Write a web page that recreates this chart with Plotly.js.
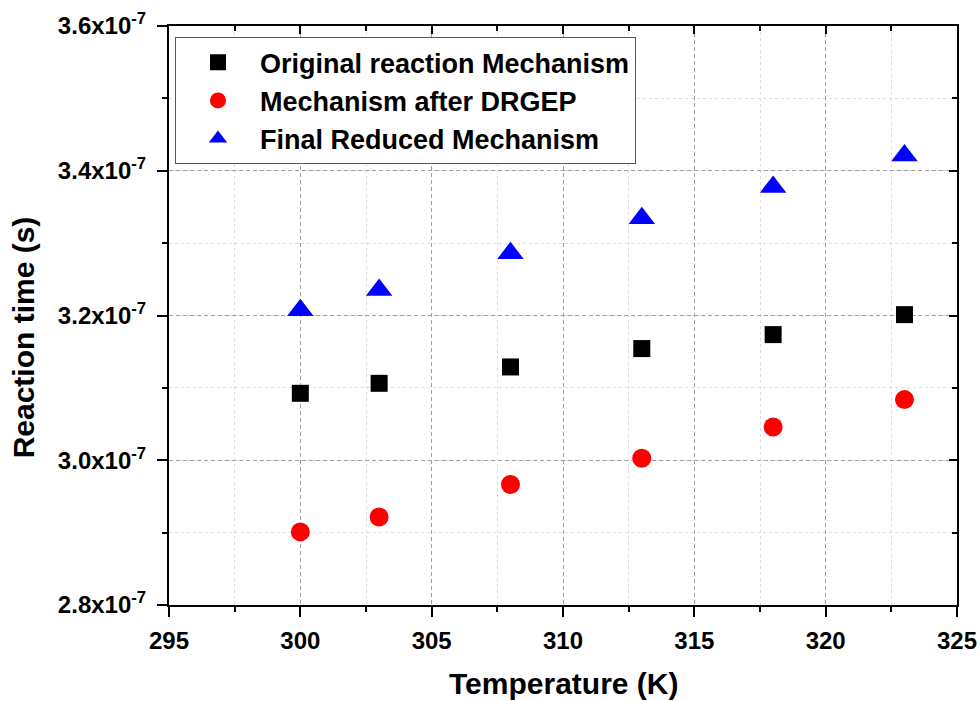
<!DOCTYPE html>
<html>
<head>
<meta charset="utf-8">
<script src="https://cdn.plot.ly/plotly-3.0.1.min.js"></script>
<style>html,body{margin:0;padding:0;background:#fff;}#chart{width:980px;height:701px;}</style>
</head>
<body>
<div id="chart"></div>
<script>
// ---- data ----
var temperatures = [300, 303, 308, 313, 318, 323];
var originalMechanism = [3.0925e-7, 3.1063e-7, 3.1289e-7, 3.1543e-7, 3.1736e-7, 3.2012e-7];
var afterDRGEP = [2.9010e-7, 2.9216e-7, 2.9664e-7, 3.0027e-7, 3.0460e-7, 3.0838e-7];
var finalReduced = [3.2072e-7, 3.2354e-7, 3.2860e-7, 3.3344e-7, 3.3777e-7, 3.4211e-7];
var seriesNames = ['Original reaction Mechanism', 'Mechanism after DRGEP', 'Final Reduced Mechanism'];
var yTickVals = [2.8e-7, 3.0e-7, 3.2e-7, 3.4e-7, 3.6e-7];
var yTickText = ['2.8x10<sup>-7</sup>', '3.0x10<sup>-7</sup>', '3.2x10<sup>-7</sup>', '3.4x10<sup>-7</sup>', '3.6x10<sup>-7</sup>'];
var xTitle = 'Temperature (K)';
var yTitle = 'Reaction time (s)';

var FONT = 'Liberation Sans, Arial, Helvetica, sans-serif';

var traces = [
  {x: temperatures, y: originalMechanism, name: seriesNames[0], type: 'scatter', mode: 'markers',
   marker: {symbol: 'square', size: 17, color: '#000000', line: {width: 0}}},
  {x: temperatures, y: afterDRGEP, name: seriesNames[1], type: 'scatter', mode: 'markers',
   marker: {symbol: 'circle', size: 19, color: '#ff0000', line: {width: 0}}},
  {x: temperatures, y: finalReduced, name: seriesNames[2], type: 'scatter', mode: 'markers',
   marker: {symbol: 'triangle-up', size: 23, color: '#0000ff', line: {width: 0}}},
  {x: [], y: [], xaxis: 'x2', yaxis: 'y2', showlegend: false, hoverinfo: 'skip', type: 'scatter', mode: 'markers'}
];

var layout = {
  width: 980, height: 701,
  margin: {l: 169, r: 23, t: 26, b: 96},
  paper_bgcolor: '#ffffff', plot_bgcolor: '#ffffff',
  font: {family: FONT, color: '#000'},
  showlegend: true,
  legend: {
    x: 0.0076, y: 0.9805, xanchor: 'left', yanchor: 'top',
    bgcolor: '#ffffff', bordercolor: '#555555', borderwidth: 1,
    font: {family: FONT, size: 27, weight: 'bold', color: '#000'},
    itemwidth: 74, tracegroupgap: 0
  },
  xaxis: {
    range: [295, 325], tickmode: 'linear', tick0: 295, dtick: 5,
    showline: true, linecolor: '#000', linewidth: 2, mirror: true,
    ticks: 'outside', ticklen: 10, tickwidth: 2, tickcolor: '#000',
    tickfont: {family: FONT, size: 24, weight: 'bold', color: '#000'},
    showgrid: true, gridcolor: '#a0a0a0', gridwidth: 1, griddash: '4px,3px',
    minor: {tickmode: 'linear', tick0: 295, dtick: 2.5, ticks: 'outside', ticklen: 5, tickwidth: 2, tickcolor: '#000',
            showgrid: true, gridcolor: '#dcdcdc', gridwidth: 1, griddash: 'dot'},
    zeroline: false, ticklabelstandoff: 3
  },
  yaxis: {
    range: [2.8e-7, 3.6e-7], tickmode: 'array', tickvals: yTickVals, ticktext: yTickText,
    showline: true, linecolor: '#000', linewidth: 2, mirror: true,
    ticks: 'outside', ticklen: 10, tickwidth: 2, tickcolor: '#000',
    tickfont: {family: FONT, size: 24, weight: 'bold', color: '#000'},
    showgrid: true, gridcolor: '#a0a0a0', gridwidth: 1, griddash: '4px,3px',
    minor: {tickmode: 'linear', tick0: 2.8e-7, dtick: 1e-8, ticks: 'outside', ticklen: 5, tickwidth: 2, tickcolor: '#000',
            showgrid: true, gridcolor: '#dcdcdc', gridwidth: 1, griddash: 'dot'},
    zeroline: false, ticklabelstandoff: 6
  },
  xaxis2: {
    overlaying: 'x', side: 'top', anchor: 'y2', range: [295, 325], tickmode: 'linear', tick0: 295, dtick: 5,
    showline: false, showgrid: false, zeroline: false, showticklabels: false,
    ticks: 'inside', ticklen: 8, tickwidth: 2, tickcolor: '#000',
    minor: {tickmode: 'linear', tick0: 295, dtick: 2.5, ticks: 'inside', ticklen: 5, tickwidth: 2, tickcolor: '#000', showgrid: false}
  },
  yaxis2: {
    overlaying: 'y', side: 'right', anchor: 'x2', range: [2.8e-7, 3.6e-7], tickmode: 'array', tickvals: yTickVals,
    showline: false, showgrid: false, zeroline: false, showticklabels: false,
    ticks: 'inside', ticklen: 8, tickwidth: 2, tickcolor: '#000',
    minor: {tickmode: 'linear', tick0: 2.8e-7, dtick: 1e-8, ticks: 'inside', ticklen: 5, tickwidth: 2, tickcolor: '#000', showgrid: false}
  },
  annotations: [
    {text: xTitle, xref: 'paper', yref: 'paper', x: 0.5, y: -0.136, xanchor: 'center', yanchor: 'middle',
     showarrow: false, font: {family: FONT, size: 30, weight: 'bold', color: '#000'}},
    {text: yTitle, xref: 'paper', yref: 'paper', x: -0.185, y: 0.4626, xanchor: 'center', yanchor: 'middle',
     textangle: -90, showarrow: false, font: {family: FONT, size: 30, weight: 'bold', color: '#000'}}
  ]
};

Plotly.newPlot('chart', traces, layout, {displayModeBar: false, staticPlot: true});
</script>
</body>
</html>
